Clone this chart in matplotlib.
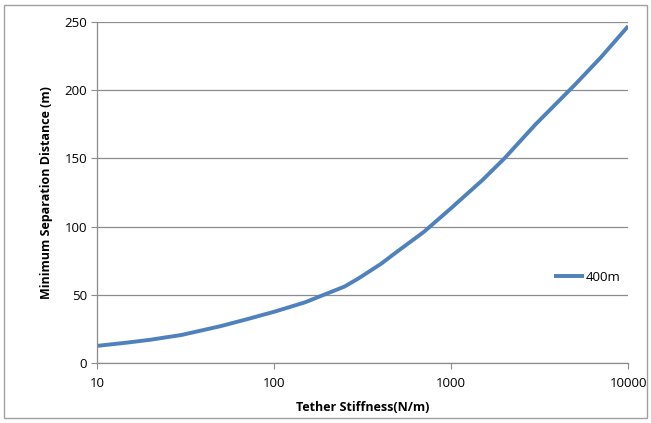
import matplotlib.pyplot as plt
from matplotlib.patches import Rectangle
from matplotlib.ticker import FixedLocator, FixedFormatter, NullLocator

# values
stiffness = [10, 15, 20, 30, 50, 70, 100, 150, 200, 250, 300, 400, 500, 700, 1000, 1500, 2000, 3000, 5000, 7000, 10000]
separation = [12.5, 15, 17, 20.5, 27, 32, 37.5, 44.5, 51, 56, 62, 72.5, 82, 96, 113.5, 134, 150, 175, 204, 224, 247]

x_ticks = [10, 100, 1000, 10000]
x_tick_labels = ["10", "100", "1000", "10000"]
y_ticks = [0, 50, 100, 150, 200, 250]

plt.rcParams['font.family'] = ['Open Sans', 'DejaVu Sans']

fig = plt.figure(figsize=(6.51, 4.23), dpi=100)
ax = fig.add_axes([0.149, 0.142, 0.816, 0.806])

ax.plot(stiffness, separation, color='#4F81BD', lw=2.8, label='400m',
        solid_capstyle='butt', solid_joinstyle='round')

ax.set_xscale('log')
ax.set_xlim(10, 10000)
ax.set_ylim(0, 250)
ax.xaxis.set_major_locator(FixedLocator(x_ticks))
ax.xaxis.set_major_formatter(FixedFormatter(x_tick_labels))
ax.xaxis.set_minor_locator(NullLocator())
ax.set_yticks(y_ticks)

ax.grid(axis='y', color='#8c8c8c', lw=0.9)
ax.set_axisbelow(True)
for s in ['top', 'right']:
    ax.spines[s].set_visible(False)
for s in ['left', 'bottom']:
    ax.spines[s].set_color('#8c8c8c')
    ax.spines[s].set_linewidth(0.9)
ax.tick_params(axis='both', direction='out', length=4, color='#8c8c8c', labelsize=9.5, pad=3)
ax.tick_params(axis='x', pad=6)

ax.set_xlabel('Tether Stiffness(N/m)', fontsize=9, fontweight='bold', labelpad=8)
ax.set_ylabel('Minimum Separation Distance (m)', fontsize=9, fontweight='bold', labelpad=8)

ax.legend(loc='center left', bbox_to_anchor=(0.85, 0.252), frameon=False, fontsize=9.5,
          handlelength=2.3, handletextpad=0.1, borderaxespad=0)

fig.patches.append(Rectangle((0.006, 0.012), 0.988, 0.976, transform=fig.transFigure,
                             fill=False, edgecolor='#a0a0a0', lw=1))

fig.savefig('out.png', dpi=100)
